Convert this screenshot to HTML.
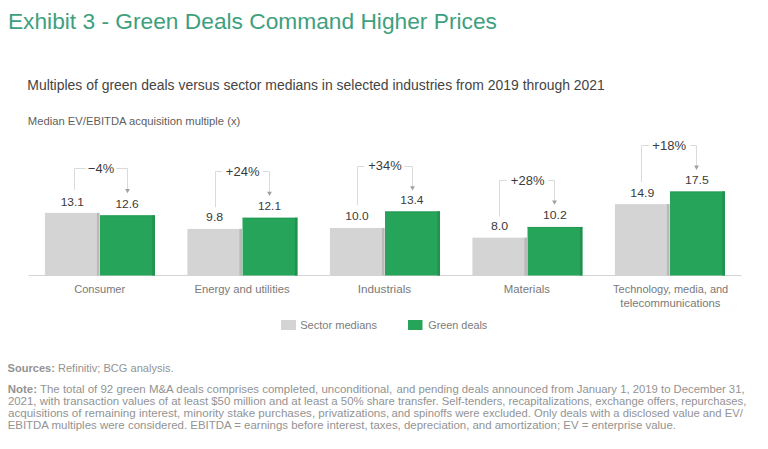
<!DOCTYPE html>
<html><head><meta charset="utf-8">
<style>
html,body{margin:0;padding:0;background:#fff;}
body{width:768px;height:449px;overflow:hidden;}
svg{display:block;font-family:"Liberation Sans",sans-serif;}
</style></head><body>
<svg width="768" height="449" viewBox="0 0 768 449">
<line x1="28.5" y1="275.5" x2="741.5" y2="275.5" stroke="#d4d4d4" stroke-width="1"/>
<rect x="44.90" y="212.87" width="54.60" height="62.63" fill="#d4d4d4"/>
<rect x="96.90" y="212.87" width="2.6" height="62.63" fill="#bcb8b8"/>
<rect x="100.00" y="215.30" width="54.90" height="60.20" fill="#26a55a"/>
<rect x="152.40" y="215.30" width="2.5" height="60.20" fill="#22914f"/>
<rect x="100.00" y="215.30" width="54.90" height="1" fill="#22914f" opacity="0.6"/>
<path d="M74.50,189.90 V168.50 H85.80 M116.20,168.50 H127.50 V189.20" fill="none" stroke="#dadada" stroke-width="1"/>
<path d="M125.10,188.90 L129.90,188.90 L127.50,193.20 Z" fill="#a0a0a0"/>
<rect x="187.40" y="228.91" width="54.60" height="46.59" fill="#d4d4d4"/>
<rect x="239.40" y="228.91" width="2.6" height="46.59" fill="#bcb8b8"/>
<rect x="242.50" y="217.73" width="54.90" height="57.77" fill="#26a55a"/>
<rect x="294.90" y="217.73" width="2.5" height="57.77" fill="#22914f"/>
<rect x="242.50" y="217.73" width="54.90" height="1" fill="#22914f" opacity="0.6"/>
<path d="M215.50,207.20 V171.50 H221.80 M263.20,171.50 H269.50 V192.10" fill="none" stroke="#dadada" stroke-width="1"/>
<path d="M267.10,191.80 L271.90,191.80 L269.50,196.10 Z" fill="#a0a0a0"/>
<rect x="329.90" y="227.94" width="54.60" height="47.56" fill="#d4d4d4"/>
<rect x="381.90" y="227.94" width="2.6" height="47.56" fill="#bcb8b8"/>
<rect x="385.00" y="211.41" width="54.90" height="64.09" fill="#26a55a"/>
<rect x="437.40" y="211.41" width="2.5" height="64.09" fill="#22914f"/>
<rect x="385.00" y="211.41" width="54.90" height="1" fill="#22914f" opacity="0.6"/>
<path d="M357.50,205.20 V166.50 H364.20 M404.60,166.50 H412.50 V186.50" fill="none" stroke="#dadada" stroke-width="1"/>
<path d="M410.10,186.20 L414.90,186.20 L412.50,190.50 Z" fill="#a0a0a0"/>
<rect x="472.40" y="237.66" width="54.60" height="37.84" fill="#d4d4d4"/>
<rect x="524.40" y="237.66" width="2.6" height="37.84" fill="#bcb8b8"/>
<rect x="527.50" y="226.97" width="54.90" height="48.53" fill="#26a55a"/>
<rect x="579.90" y="226.97" width="2.5" height="48.53" fill="#22914f"/>
<rect x="527.50" y="226.97" width="54.90" height="1" fill="#22914f" opacity="0.6"/>
<path d="M499.50,216.30 V180.50 H506.50 M548.20,180.50 H554.50 V200.70" fill="none" stroke="#dadada" stroke-width="1"/>
<path d="M552.10,200.40 L556.90,200.40 L554.50,204.70 Z" fill="#a0a0a0"/>
<rect x="614.90" y="204.12" width="54.60" height="71.38" fill="#d4d4d4"/>
<rect x="666.90" y="204.12" width="2.6" height="71.38" fill="#bcb8b8"/>
<rect x="670.00" y="191.47" width="54.90" height="84.03" fill="#26a55a"/>
<rect x="722.40" y="191.47" width="2.5" height="84.03" fill="#22914f"/>
<rect x="670.00" y="191.47" width="54.90" height="1" fill="#22914f" opacity="0.6"/>
<path d="M641.50,182.20 V145.50 H648.80 M690.20,145.50 H696.50 V165.90" fill="none" stroke="#dadada" stroke-width="1"/>
<path d="M694.10,165.60 L698.90,165.60 L696.50,169.90 Z" fill="#a0a0a0"/>
<rect x="281" y="320" width="15" height="10" fill="#d4d4d4"/>
<rect x="408" y="320" width="14.5" height="10" fill="#26a55a"/>
<text id="title" x="7.95" y="29.30" font-size="22.5" fill="#3e9f7e" textLength="488.96" lengthAdjust="spacingAndGlyphs">Exhibit 3 - Green Deals Command Higher Prices</text>
<text id="sub" x="27.28" y="90.00" font-size="14" fill="#444" textLength="577.60" lengthAdjust="spacingAndGlyphs">Multiples of green deals versus sector medians in selected industries from 2019 through 2021</text>
<text id="ylab" x="27.79" y="125.00" font-size="11" fill="#606060" textLength="212.58" lengthAdjust="spacingAndGlyphs">Median EV/EBITDA acquisition multiple (x)</text>
<text id="v0g" x="60.70" y="205.70" font-size="11.2" fill="#3b3b3b" textLength="23.31" lengthAdjust="spacingAndGlyphs">13.1</text>
<text id="v0v" x="115.42" y="207.70" font-size="11.2" fill="#3b3b3b" textLength="23.31" lengthAdjust="spacingAndGlyphs">12.6</text>
<text id="v1g" x="206.06" y="221.00" font-size="11.2" fill="#3b3b3b" textLength="17.12" lengthAdjust="spacingAndGlyphs">9.8</text>
<text id="v1v" x="258.03" y="209.90" font-size="11.2" fill="#3b3b3b" textLength="22.94" lengthAdjust="spacingAndGlyphs">12.1</text>
<text id="v2g" x="345.31" y="220.00" font-size="11.2" fill="#3b3b3b" textLength="23.26" lengthAdjust="spacingAndGlyphs">10.0</text>
<text id="v2v" x="400.29" y="204.00" font-size="11.2" fill="#3b3b3b" textLength="23.20" lengthAdjust="spacingAndGlyphs">13.4</text>
<text id="v3g" x="490.99" y="230.00" font-size="11.2" fill="#3b3b3b" textLength="17.18" lengthAdjust="spacingAndGlyphs">8.0</text>
<text id="v3v" x="542.99" y="218.80" font-size="11.2" fill="#3b3b3b" textLength="23.82" lengthAdjust="spacingAndGlyphs">10.2</text>
<text id="v4g" x="630.34" y="197.00" font-size="11.2" fill="#3b3b3b" textLength="23.99" lengthAdjust="spacingAndGlyphs">14.9</text>
<text id="v4v" x="684.91" y="184.00" font-size="11.2" fill="#3b3b3b" textLength="23.81" lengthAdjust="spacingAndGlyphs">17.5</text>
<text id="p0" x="87.98" y="172.70" font-size="13.5" fill="#3b3b3b" textLength="26.16" lengthAdjust="spacingAndGlyphs">−4%</text>
<text id="p1" x="225.86" y="175.70" font-size="13.5" fill="#3b3b3b" textLength="33.57" lengthAdjust="spacingAndGlyphs">+24%</text>
<text id="p2" x="368.26" y="170.30" font-size="13.5" fill="#3b3b3b" textLength="33.37" lengthAdjust="spacingAndGlyphs">+34%</text>
<text id="p3" x="510.86" y="184.70" font-size="13.5" fill="#3b3b3b" textLength="33.57" lengthAdjust="spacingAndGlyphs">+28%</text>
<text id="p4" x="652.26" y="150.00" font-size="13.5" fill="#3b3b3b" textLength="33.77" lengthAdjust="spacingAndGlyphs">+18%</text>
<text id="c0" x="74.22" y="292.50" font-size="11.8" fill="#797979" textLength="50.97" lengthAdjust="spacingAndGlyphs">Consumer</text>
<text id="c1" x="194.44" y="292.50" font-size="11.8" fill="#797979" textLength="95.24" lengthAdjust="spacingAndGlyphs">Energy and utilities</text>
<text id="c2" x="357.74" y="292.50" font-size="11.8" fill="#797979" textLength="53.45" lengthAdjust="spacingAndGlyphs">Industrials</text>
<text id="c3" x="503.78" y="292.50" font-size="11.8" fill="#797979" textLength="46.18" lengthAdjust="spacingAndGlyphs">Materials</text>
<text id="c4" x="613.11" y="293.00" font-size="11.8" fill="#797979" textLength="115.11" lengthAdjust="spacingAndGlyphs">Technology, media, and</text>
<text id="c5" x="620.26" y="306.50" font-size="11.8" fill="#797979" textLength="100.19" lengthAdjust="spacingAndGlyphs">telecommunications</text>
<text id="l0" x="300.16" y="329.00" font-size="11.8" fill="#7c7c7c" textLength="76.89" lengthAdjust="spacingAndGlyphs">Sector medians</text>
<text id="l1" x="428.24" y="329.00" font-size="11.8" fill="#7c7c7c" textLength="59.04" lengthAdjust="spacingAndGlyphs">Green deals</text>
<text id="f0" x="7.52" y="372.10" font-size="10.2" fill="#939393" textLength="166.09" lengthAdjust="spacingAndGlyphs"><tspan font-weight="bold">Sources:</tspan> Refinitiv; BCG analysis.</text>
<text id="f1a" x="7.73" y="392.50" font-size="10.2" fill="#939393" textLength="384.41" lengthAdjust="spacingAndGlyphs"><tspan font-weight="bold">Note:</tspan> The total of 92 green M&amp;A deals comprises completed, unconditional,</text>
<text id="f1b" x="396.46" y="392.50" font-size="10.2" fill="#939393" textLength="348.13" lengthAdjust="spacingAndGlyphs">and pending deals announced from January 1, 2019 to December 31,</text>
<text id="f2a" x="7.91" y="404.90" font-size="10.2" fill="#939393" textLength="355.83" lengthAdjust="spacingAndGlyphs">2021, with transaction values of at least $50 million and at least a 50%</text>
<text id="f2b" x="366.70" y="404.90" font-size="10.2" fill="#939393" textLength="379.67" lengthAdjust="spacingAndGlyphs">share transfer. Self-tenders, recapitalizations, exchange offers, repurchases,</text>
<text id="f3a" x="7.94" y="417.10" font-size="10.2" fill="#939393" textLength="381.40" lengthAdjust="spacingAndGlyphs">acquisitions of remaining interest, minority stake purchases, privatizations,</text>
<text id="f3b" x="391.57" y="417.10" font-size="10.2" fill="#939393" textLength="351.24" lengthAdjust="spacingAndGlyphs">and spinoffs were excluded. Only deals with a disclosed value and EV/</text>
<text id="f4a" x="7.65" y="429.10" font-size="10.2" fill="#939393" textLength="359.96" lengthAdjust="spacingAndGlyphs">EBITDA multiples were considered. EBITDA = earnings before interest,</text>
<text id="f4b" x="370.34" y="429.10" font-size="10.2" fill="#939393" textLength="305.61" lengthAdjust="spacingAndGlyphs">taxes, depreciation, and amortization; EV = enterprise value.</text>
</svg>
</body></html>
